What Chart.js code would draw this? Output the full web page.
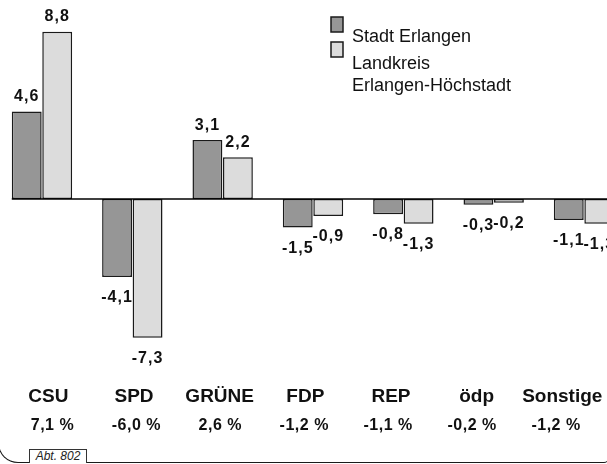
<!DOCTYPE html>
<html>
<head>
<meta charset="utf-8">
<script src="https://cdn.jsdelivr.net/npm/chart.js@4/dist/chart.umd.min.js"></script>
<style>
  html, body { margin: 0; padding: 0; background: #fff; }
  body { position: relative; width: 607px; height: 464px; overflow: hidden; font-family: "Liberation Sans", Arial, sans-serif; }
  #wrap { position: absolute; left: -20px; top: 0; width: 660px; height: 464px; }
  #frame { position: absolute; left: -2px; top: -20px; width: 611px; height: 483px; box-sizing: border-box;
           border: 1.5px solid #1a1a1a; border-top: none; border-bottom-left-radius: 20px; border-bottom-right-radius: 5px; }
  #abt { position: absolute; left: 29px; top: 449px; width: 58px; height: 14px; box-sizing: border-box;
         border: 1px solid #333; border-bottom: none; font-size: 12px; font-style: italic; line-height: 13px;
         text-align: center; color: #222; background: #fff; }
</style>
</head>
<body>
<div id="frame"></div>
<div id="wrap"><canvas id="chart" width="660" height="464"></canvas></div>
<div id="abt">Abt. 802</div>
<script>
const PARTIES = ["CSU", "SPD", "GRÜNE", "FDP", "REP", "ödp", "Sonstige"];
const STADT = [4.6, -4.1, 3.1, -1.5, -0.8, -0.3, -1.1];
const LANDKREIS = [8.8, -7.3, 2.2, -0.9, -1.3, -0.2, -1.3];
const TOTALS = [7.1, -6.0, 2.6, -1.2, -1.1, -0.2, -1.2];
const SERIES = ["Stadt Erlangen", "Landkreis\nErlangen-Höchstadt"];

const SHIFT = 20; // canvas starts 20px left of the page
const FONT = '"Liberation Sans", Arial, sans-serif';
const DARK = "#969696";
const LIGHT = "#dcdcdc";
const EDGE = "#1a1a1a";
// the text rows below sit a little tighter than the bar groups
const NAME_START = 0.071, NAME_STEP = 0.948;
const TOTAL_START = 0.116, TOTAL_STEP = 0.929;

function fmt(v) {
    return v.toFixed(1).replace(".", ",");
}

var decor = {
    id: "decor",
    afterDatasetsDraw: function (chart) {
        var ctx = chart.ctx;
        var xScale = chart.scales.x;
        var yScale = chart.scales.y;
        var y0 = yScale.getPixelForValue(0);

        // zero line
        var first = chart.getDatasetMeta(0).data[0];
        ctx.save();
        ctx.strokeStyle = "#000";
        ctx.lineWidth = 1.5;
        ctx.beginPath();
        ctx.moveTo(first.x - first.width / 2, y0);
        ctx.lineTo(chart.width, y0);
        ctx.stroke();

        // value labels
        ctx.fillStyle = "#111";
        ctx.font = "bold 16px " + FONT;
        ctx.letterSpacing = "1px";
        ctx.textAlign = "center";
        ctx.textBaseline = "alphabetic";
        chart.data.datasets.forEach(function (ds, d) {
            chart.getDatasetMeta(d).data.forEach(function (bar, i) {
                var v = ds.data[i];
                var ty = v >= 0 ? bar.y - 10.5 : bar.y + 25;
                ctx.fillText(fmt(v), bar.x, ty);
            });
        });

        // party names and totals
        ctx.letterSpacing = "0px";
        ctx.font = "bold 19px " + FONT;
        PARTIES.forEach(function (p, i) {
            ctx.fillText(p, xScale.getPixelForValue(NAME_START + NAME_STEP * i), 401.5);
        });
        ctx.font = "bold 16px " + FONT;
        ctx.letterSpacing = "0.5px";
        TOTALS.forEach(function (t, i) {
            ctx.fillText(fmt(t) + " %", xScale.getPixelForValue(TOTAL_START + TOTAL_STEP * i), 430);
        });

        // legend
        ctx.letterSpacing = "0px";
        ctx.font = "18px " + FONT;
        ctx.textAlign = "left";
        var lx = 331 + SHIFT;
        var boxTop = [17, 42];
        var lineY = [[41.7], [69.3, 91]];
        chart.data.datasets.forEach(function (ds, d) {
            ctx.fillStyle = ds.backgroundColor;
            ctx.fillRect(lx, boxTop[d], 12, 15);
            ctx.strokeStyle = EDGE;
            ctx.lineWidth = 1.5;
            ctx.strokeRect(lx, boxTop[d], 12, 15);
            ctx.fillStyle = "#111";
            SERIES[d].split("\n").forEach(function (line, k) {
                ctx.fillText(line, 352 + SHIFT, lineY[d][k]);
            });
        });
        ctx.restore();
    }
};

var ctx = document.getElementById("chart");

new Chart(ctx, {
    type: "bar",
    data: {
        labels: PARTIES,
        datasets: [{
            label: SERIES[0],
            data: STADT,
            backgroundColor: DARK,
            borderColor: EDGE,
            borderWidth: 1.5,
            borderSkipped: false
        }, {
            label: SERIES[1].replace("\n", " "),
            data: LANDKREIS,
            backgroundColor: LIGHT,
            borderColor: EDGE,
            borderWidth: 1.5,
            borderSkipped: false
        }]
    },
    options: {
        responsive: false,
        animation: false,
        layout: {
            padding: { left: 16.8, right: 10.8, top: 9, bottom: 103.5 }
        },
        datasets: {
            bar: { categoryPercentage: 0.675, barPercentage: 0.98 }
        },
        plugins: {
            legend: { display: false },
            tooltip: { enabled: false }
        },
        scales: {
            x: { display: false },
            y: { display: false, min: -8.5, max: 10 }
        }
    },
    plugins: [decor]
});
</script>
</body>
</html>
